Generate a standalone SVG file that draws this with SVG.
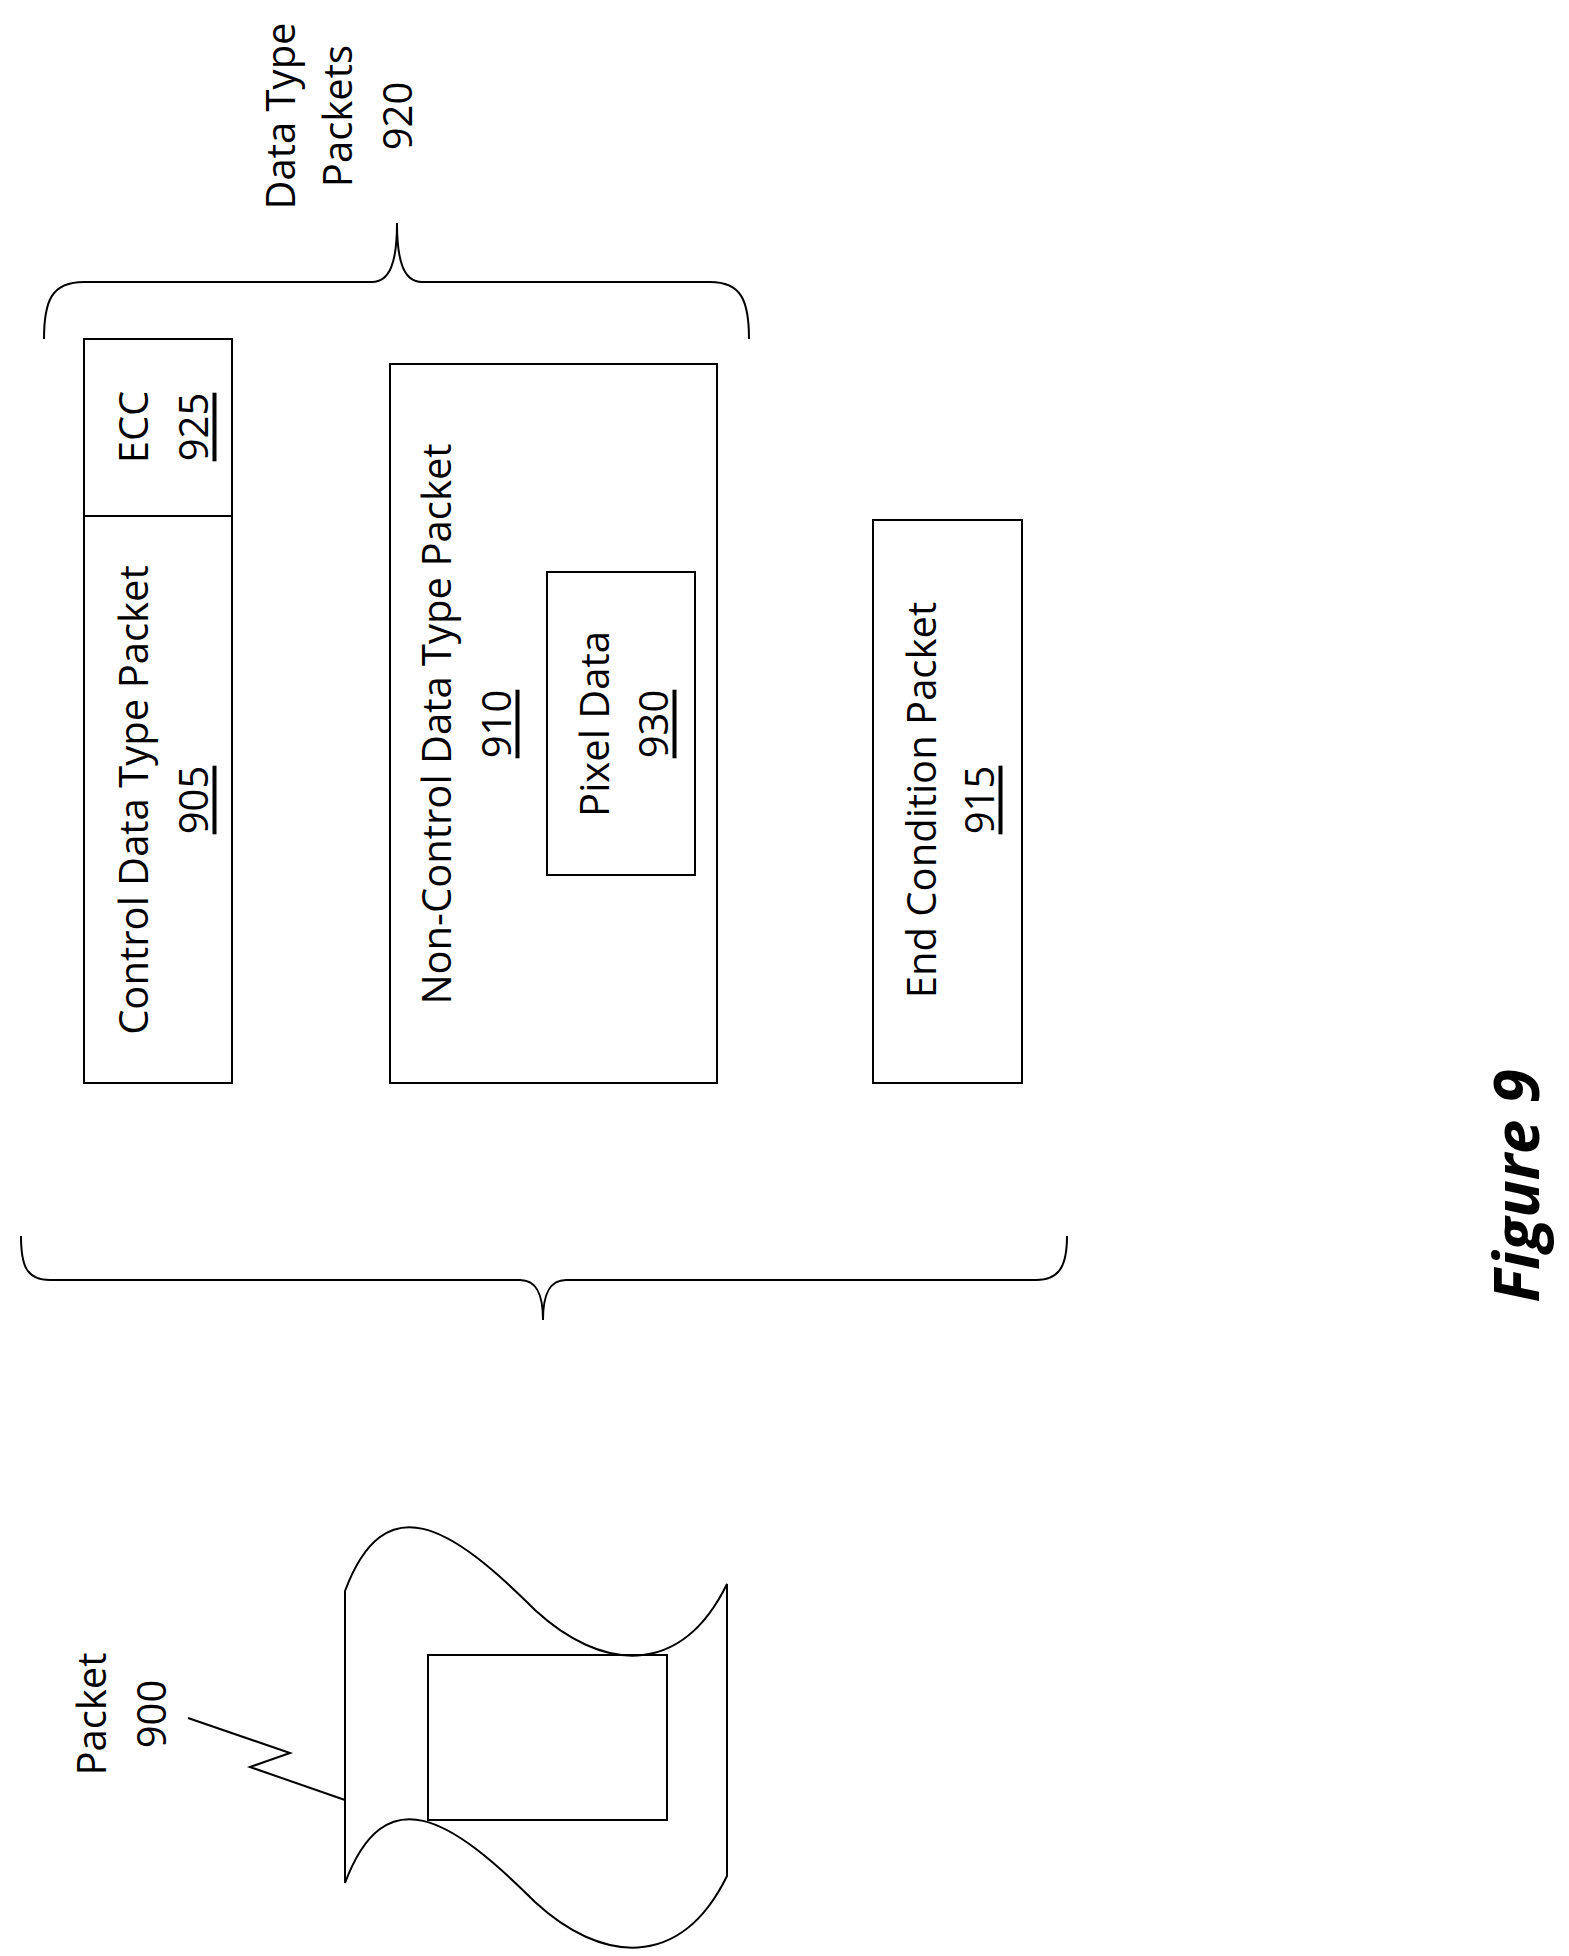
<svg xmlns="http://www.w3.org/2000/svg" width="1569" height="1956" viewBox="0 0 1569 1956">
<style>
.b{fill:none;stroke:#000;stroke-width:2}
.t{font-family:"Open Sans","Liberation Sans",sans-serif;font-size:40px;text-anchor:middle;dominant-baseline:central;fill:#000}
.u{text-decoration:underline}
</style>
<rect width="1569" height="1956" fill="#fff"/>
<g id="connectors">
<path class="b" d="M44,339 C44,300 52,282 84,282 L372,282 C390,282 397,262 397,223 C397,262 404,282 422,282 L710,282 C741,282 749,300 749,339"/>
<path class="b" d="M21,1236 C21,1265 26,1280 50,1280 L520,1280 C537,1280 543,1295 543,1320 C543,1295 549,1280 566,1280 L1036,1280 C1060,1280 1067,1265 1067,1236"/>
<path class="b" d="M188,1718 L290,1753 L250,1767 L345,1800"/>
</g>
<g id="n920"><text class="t" transform="translate(279,116) rotate(-90)">Data Type</text><text class="t" transform="translate(336,116) rotate(-90)">Packets</text><text class="t" transform="translate(396,116) rotate(-90)">920</text></g>
<g id="n905"><rect class="b" x="84" y="339" width="148" height="744"/><line class="b" x1="84" y1="516" x2="232" y2="516"/>
<text class="t" transform="translate(132,800) rotate(-90)">Control Data Type Packet</text><text class="t u" transform="translate(192,800) rotate(-90)">905</text></g>
<g id="n925"><text class="t" transform="translate(132,427) rotate(-90)">ECC</text><text class="t u" transform="translate(192,427) rotate(-90)">925</text></g>
<g id="n910"><rect class="b" x="390" y="364" width="327" height="719"/>
<text class="t" transform="translate(435,724) rotate(-90)">Non-Control Data Type Packet</text><text class="t u" transform="translate(495,724) rotate(-90)">910</text></g>
<g id="n930"><rect class="b" x="547" y="572" width="148" height="303"/>
<text class="t" transform="translate(593,724) rotate(-90)">Pixel Data</text><text class="t u" transform="translate(652,724) rotate(-90)">930</text></g>
<g id="n915"><rect class="b" x="873" y="520" width="149" height="563"/>
<text class="t" transform="translate(920,800) rotate(-90)">End Condition Packet</text><text class="t u" transform="translate(978,800) rotate(-90)">915</text></g>
<g id="n900">
<path class="b" stroke-width="2.5" d="M345,1591 C385,1485 450,1525 535,1610 C600,1670 680,1680 727,1584 L727,1876 C680,1972 600,1962 535,1902 C450,1817 385,1777 345,1883 Z"/>
<rect class="b" stroke-width="2.5" x="428" y="1655" width="239" height="165"/>
<text class="t" transform="translate(90,1714) rotate(-90)">Packet</text><text class="t" transform="translate(150,1714) rotate(-90)">900</text>
</g>
<text transform="translate(1515,1186) rotate(-90)" style="font-family:'Open Sans','Liberation Sans',sans-serif;font-size:62px;font-weight:bold;font-style:italic;text-anchor:middle;dominant-baseline:central">Figure 9</text>
</svg>
